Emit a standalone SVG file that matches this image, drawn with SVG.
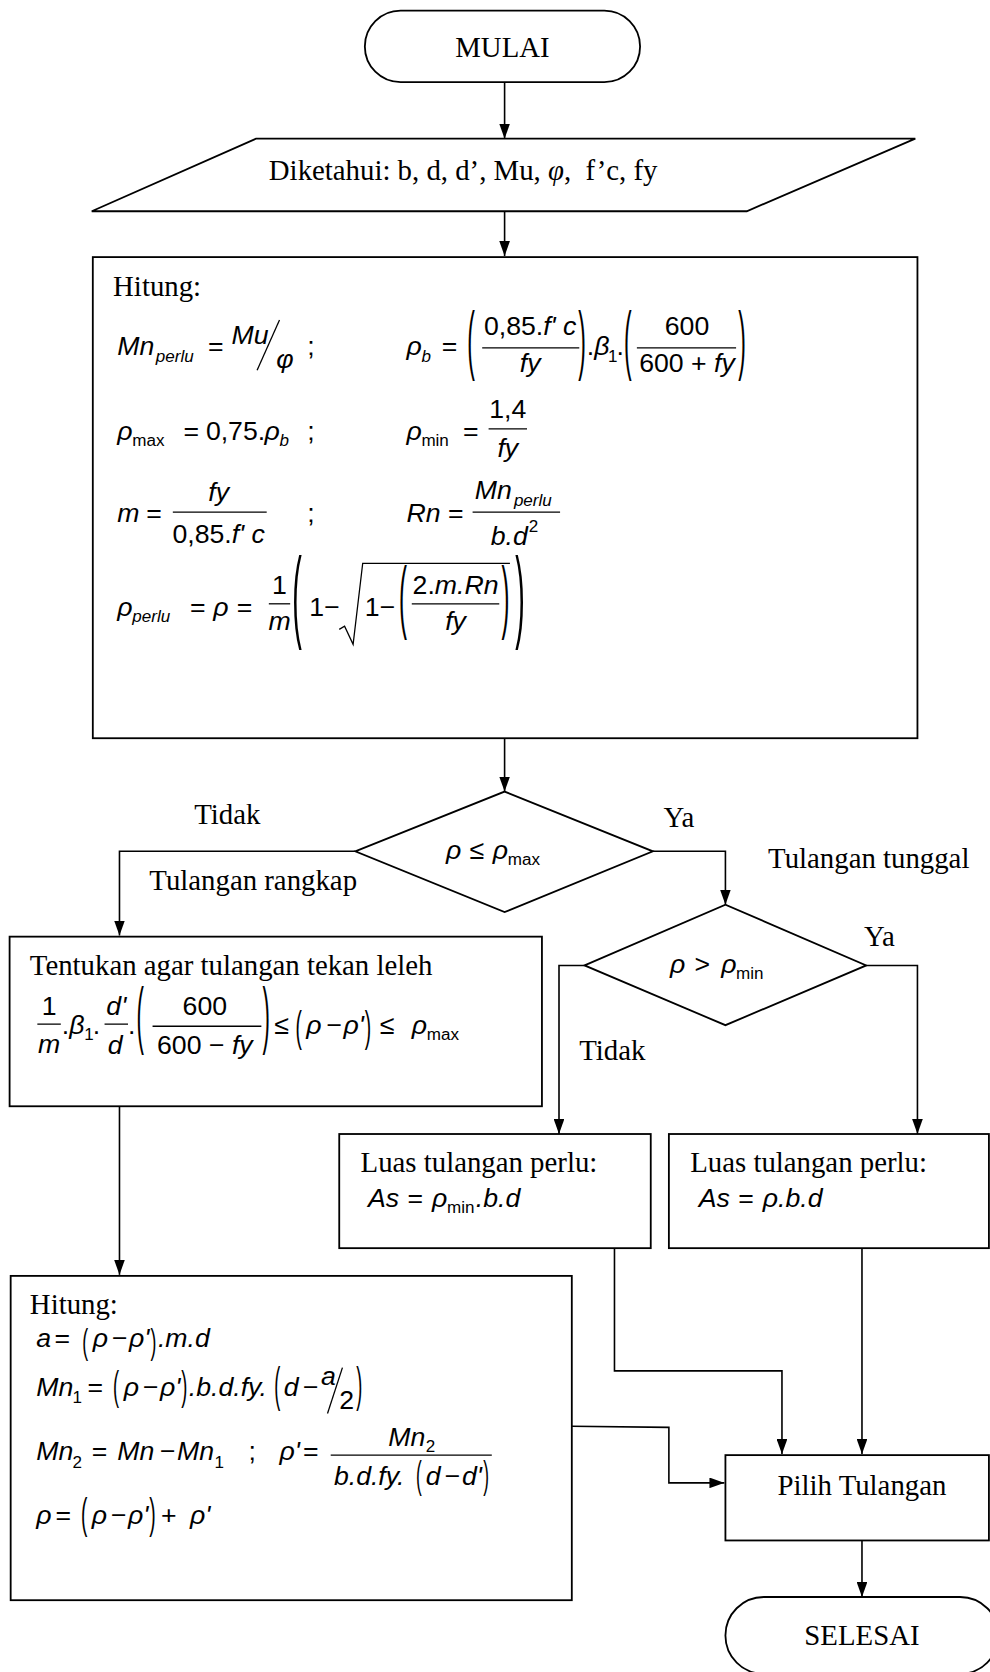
<svg xmlns="http://www.w3.org/2000/svg" width="990" height="1672" viewBox="0 0 990 1672">
<defs>
<marker id="arr" viewBox="0 0 14 10" markerWidth="14" markerHeight="10" refX="14" refY="5" orient="auto" markerUnits="userSpaceOnUse">
<path d="M0,0 L14,5 L0,10 z" fill="#000"/>
</marker>
<style>
.shape{fill:#fff;stroke:#000;stroke-width:1.7}
.conn{fill:none;stroke:#000;stroke-width:1.5}
.fl{stroke:#000;stroke-width:1.2}
.s{font-family:"Liberation Serif","Times New Roman",serif;font-size:27px;fill:#000}
.m{font-family:"Liberation Sans",Arial,sans-serif;font-size:25px;fill:#000}
.i{font-style:italic}
.sb{font-family:"Liberation Sans",Arial,sans-serif;font-size:16px;fill:#000}
.c{text-anchor:middle}
.p{font-family:"Liberation Sans",Arial,sans-serif;fill:#000}
</style>
</defs>
<rect width="990" height="1672" fill="#fff"/>
<g transform="scale(1.0668)">

<g id="connectors">
<path class="conn" d="M473,77 V130" marker-end="url(#arr)"/>
<path class="conn" d="M473,198 V240" marker-end="url(#arr)"/>
<path class="conn" d="M473,692 V742" marker-end="url(#arr)"/>
<path class="conn" d="M333,798 H112 V877" marker-end="url(#arr)"/>
<path class="conn" d="M612,798 H680 V848" marker-end="url(#arr)"/>
<path class="conn" d="M548,905 H524 V1063" marker-end="url(#arr)"/>
<path class="conn" d="M812,905 H860 V1063" marker-end="url(#arr)"/>
<path class="conn" d="M112,1037 V1195" marker-end="url(#arr)"/>
<path class="conn" d="M576,1170 V1285 H733 V1363" marker-end="url(#arr)"/>
<path class="conn" d="M808,1170 V1363" marker-end="url(#arr)"/>
<path class="conn" d="M536,1337 L627,1338 V1390 H679" marker-end="url(#arr)"/>
<path class="conn" d="M808,1444 V1497" marker-end="url(#arr)"/>
</g>

<g id="labels">
<text class="s" x="182" y="772">Tidak</text>
<text class="s" x="622" y="775">Ya</text>
<text class="s" x="720" y="814">Tulangan tunggal</text>
<text class="s" x="140" y="834">Tulangan rangkap</text>
<text class="s" x="810" y="887">Ya</text>
<text class="s" x="543" y="994">Tidak</text>
</g>

<g id="mulai">
<rect class="shape" x="342" y="10" width="258" height="67" rx="33.5"/>
<text class="s c" x="471" y="53">MULAI</text>
</g>

<g id="input">
<polygon class="shape" points="240,130 858,130 700,198 86,198"/>
<text class="s" x="252" y="169" xml:space="preserve">Diketahui: b, d, d’, Mu, <tspan class="i">φ</tspan>,  f’c, fy</text>
</g>

<g id="hitung1">
<rect class="shape" x="87" y="241" width="773" height="451"/>
<text class="s" x="106" y="277">Hitung:</text>
<!-- row 1 -->
<text class="m i" x="110" y="333">Mn</text>
<text class="sb i" x="146" y="339">perlu</text>
<text class="m" x="195" y="333">=</text>
<text class="m i" x="217" y="322">Mu</text>
<line class="fl" x1="262" y1="300" x2="241" y2="347"/>
<text class="m i" x="259" y="345">φ</text>
<text class="m" x="288" y="333">;</text>
<text class="m i" x="381" y="333">ρ</text>
<text class="sb i" x="395" y="339">b</text>
<text class="m" x="414" y="333">=</text>
<text class="p" font-size="71.4" transform="translate(438,342) scale(0.3,1)">(</text>
<text class="m c" x="497" y="314">0,85.<tspan class="i">f' c</tspan></text>
<line class="fl" x1="452" y1="326" x2="543" y2="326"/>
<text class="m i c" x="497" y="349">fy</text>
<text class="p" font-size="71.4" transform="translate(542,342) scale(0.3,1)">)</text>
<text class="m" x="550" y="333">.<tspan class="i">β</tspan></text>
<text class="sb" x="570" y="339">1</text>
<text class="m" x="578" y="333">.</text>
<text class="p" font-size="71.4" transform="translate(585,342) scale(0.3,1)">(</text>
<text class="m c" x="644" y="314">600</text>
<line class="fl" x1="597" y1="326" x2="690" y2="326"/>
<text class="m c" x="644" y="349">600 + <tspan class="i">fy</tspan></text>
<text class="p" font-size="71.4" transform="translate(692,342) scale(0.3,1)">)</text>
<!-- row 2 -->
<text class="m i" x="110" y="412">ρ</text>
<text class="sb" x="124" y="418">max</text>
<text class="m" x="172" y="412">=</text>
<text class="m" x="193" y="412">0,75.</text>
<text class="m i" x="248" y="412">ρ</text>
<text class="sb i" x="262" y="418">b</text>
<text class="m" x="288" y="412">;</text>
<text class="m i" x="381" y="412">ρ</text>
<text class="sb" x="395" y="418">min</text>
<text class="m" x="434" y="412">=</text>
<text class="m c" x="476" y="392">1,4</text>
<line class="fl" x1="458" y1="402" x2="494" y2="402"/>
<text class="m i c" x="476" y="428">fy</text>
<!-- row 3 -->
<text class="m i" x="110" y="489">m</text>
<text class="m" x="137" y="489">=</text>
<text class="m i c" x="205" y="470">fy</text>
<line class="fl" x1="162" y1="480" x2="250" y2="480"/>
<text class="m c" x="205" y="509">0,85.<tspan class="i">f' c</tspan></text>
<text class="m" x="288" y="489">;</text>
<text class="m i" x="381" y="489">Rn</text>
<text class="m" x="420" y="489">=</text>
<text class="m i" x="445" y="468">Mn<tspan font-size="16" dx="2" dy="6">perlu</tspan></text>
<line class="fl" x1="443" y1="480" x2="525" y2="480"/>
<text class="m i" x="460" y="511">b.d<tspan font-size="16" font-style="normal" dx="1" dy="-12">2</tspan></text>
<!-- row 4 -->
<text class="m i" x="110" y="577">ρ</text>
<text class="sb i" x="124" y="583">perlu</text>
<text class="m" x="178" y="577">=</text>
<text class="m i" x="200" y="577">ρ</text>
<text class="m" x="222" y="577">=</text>
<text class="m c" x="262" y="557">1</text>
<line class="fl" x1="252" y1="566" x2="272" y2="566"/>
<text class="m i c" x="262" y="591">m</text>
<text class="p" font-size="96" transform="translate(274,590) scale(0.28,1)">(</text>
<text class="m" x="290" y="577">1−</text>
<polyline points="318,590 323,587 331,604 340,528 478,528" fill="none" stroke="#000" stroke-width="1.2"/>
<text class="m" x="342" y="577">1−</text>
<text class="p" font-size="74.6" transform="translate(374,584) scale(0.3,1)">(</text>
<text class="m c" x="427" y="557">2.<tspan class="i">m.Rn</tspan></text>
<line class="fl" x1="386" y1="566" x2="468" y2="566"/>
<text class="m i c" x="427" y="591">fy</text>
<text class="p" font-size="74.6" transform="translate(470,584) scale(0.3,1)">)</text>
<text class="p" font-size="96" transform="translate(483,590) scale(0.28,1)">)</text>
</g>

<g id="decision1">
<polygon class="shape" points="333,798 473,742 612,798 473,855"/>
<text class="m i" x="418" y="805">ρ</text>
<text class="m" x="440" y="805">≤</text>
<text class="m i" x="462" y="805">ρ</text>
<text class="sb" x="476" y="811">max</text>
</g>

<g id="tentukan">
<rect class="shape" x="9" y="878" width="499" height="159"/>
<text class="s" x="28" y="914">Tentukan agar tulangan tekan leleh</text>
<text class="m c" x="46" y="951">1</text>
<line class="fl" x1="35" y1="960" x2="57" y2="960"/>
<text class="m i c" x="46" y="987">m</text>
<text class="m" x="58" y="969">.<tspan class="i">β</tspan></text>
<text class="sb" x="79" y="975">1</text>
<text class="m" x="87" y="969">.</text>
<text class="m i c" x="109" y="951">d'</text>
<line class="fl" x1="98" y1="960" x2="120" y2="960"/>
<text class="m i c" x="108" y="988">d</text>
<text class="m" x="120" y="969">.</text>
<text class="p" font-size="69.3" transform="translate(128,975) scale(0.3,1)">(</text>
<text class="m c" x="192" y="951">600</text>
<line class="fl" x1="143" y1="962" x2="245" y2="962"/>
<text class="m c" x="192" y="988">600 − <tspan class="i">fy</tspan></text>
<text class="p" font-size="69.3" transform="translate(246,975) scale(0.3,1)">)</text>
<text class="m" x="257" y="969">≤</text>
<text class="p" font-size="40" transform="translate(277,976) scale(0.45,1)">(</text>
<text class="m i" x="287" y="969">ρ</text>
<text class="m" x="306" y="969">−</text>
<text class="m i" x="322" y="969">ρ'</text>
<text class="p" font-size="40" transform="translate(342,976) scale(0.45,1)">)</text>
<text class="m" x="356" y="969">≤</text>
<text class="m i" x="386" y="969">ρ</text>
<text class="sb" x="400" y="975">max</text>
</g>

<g id="decision2">
<polygon class="shape" points="548,905 680,848 812,905 680,961"/>
<text class="m i" x="628" y="912">ρ</text>
<text class="m" x="651" y="912">&gt;</text>
<text class="m i" x="676" y="912">ρ</text>
<text class="sb" x="690" y="918">min</text>
</g>

<g id="luas1">
<rect class="shape" x="318" y="1063" width="292" height="107"/>
<text class="s" x="338" y="1099">Luas tulangan perlu:</text>
<text class="m i" x="345" y="1131">As</text>
<text class="m" x="382" y="1131">=</text>
<text class="m i" x="405" y="1131">ρ</text>
<text class="sb" x="419" y="1137">min</text>
<text class="m i" x="446" y="1131">.b.d</text>
</g>

<g id="luas2">
<rect class="shape" x="627" y="1063" width="300" height="107"/>
<text class="s" x="647" y="1099">Luas tulangan perlu:</text>
<text class="m i" x="655" y="1131">As</text>
<text class="m" x="692" y="1131">=</text>
<text class="m i" x="715" y="1131">ρ.b.d</text>
</g>

<g id="hitung2">
<rect class="shape" x="10" y="1196" width="526" height="304"/>
<text class="s" x="28" y="1232">Hitung:</text>
<!-- a -->
<text class="m i" x="34" y="1263">a</text>
<text class="m" x="51" y="1263">=</text>
<text class="p" font-size="33" transform="translate(77,1269) scale(0.5,1)">(</text>
<text class="m i" x="87" y="1263">ρ</text>
<text class="m" x="105" y="1263">−</text>
<text class="m i" x="121" y="1263">ρ'</text>
<text class="p" font-size="33" transform="translate(141,1269) scale(0.5,1)">)</text>
<text class="m i" x="148" y="1263">.m.d</text>
<!-- Mn1 -->
<text class="m i" x="34" y="1309">Mn</text>
<text class="sb" x="68" y="1315">1</text>
<text class="m" x="82" y="1309">=</text>
<text class="p" font-size="38" transform="translate(106,1312) scale(0.45,1)">(</text>
<text class="m i" x="116" y="1309">ρ</text>
<text class="m" x="134" y="1309">−</text>
<text class="m i" x="150" y="1309">ρ'</text>
<text class="p" font-size="38" transform="translate(170,1312) scale(0.45,1)">)</text>
<text class="m i" x="177" y="1309">.b.d.fy.</text>
<text class="p" font-size="44.8" transform="translate(257,1313) scale(0.38,1)">(</text>
<text class="m i" x="266" y="1309">d</text>
<text class="m" x="284" y="1309">−</text>
<text class="m i" x="301" y="1298">a</text>
<line class="fl" x1="321" y1="1282" x2="307" y2="1325"/>
<text class="m" x="318" y="1321">2</text>
<text class="p" font-size="44.8" transform="translate(334,1313) scale(0.38,1)">)</text>
<!-- Mn2 -->
<text class="m i" x="34" y="1369">Mn</text>
<text class="sb" x="68" y="1376">2</text>
<text class="m" x="86" y="1369">=</text>
<text class="m i" x="110" y="1369">Mn</text>
<text class="m" x="150" y="1369">−</text>
<text class="m i" x="166" y="1369">Mn</text>
<text class="sb" x="201" y="1376">1</text>
<text class="m" x="233" y="1369">;</text>
<text class="m i" x="262" y="1369">ρ'</text>
<text class="m" x="284" y="1369">=</text>
<text class="m i" x="364" y="1355">Mn</text>
<text class="sb" x="399" y="1361">2</text>
<line class="fl" x1="310" y1="1364" x2="461" y2="1364"/>
<text class="m i" x="313" y="1392">b.d.fy.</text>
<text class="p" font-size="36" transform="translate(390,1395) scale(0.45,1)">(</text>
<text class="m i" x="399" y="1392">d</text>
<text class="m" x="417" y="1392">−</text>
<text class="m i" x="433" y="1392">d'</text>
<text class="p" font-size="36" transform="translate(453,1395) scale(0.45,1)">)</text>
<!-- rho -->
<text class="m i" x="34" y="1429">ρ</text>
<text class="m" x="52" y="1429">=</text>
<text class="p" font-size="40" transform="translate(76,1432) scale(0.45,1)">(</text>
<text class="m i" x="86" y="1429">ρ</text>
<text class="m" x="104" y="1429">−</text>
<text class="m i" x="120" y="1429">ρ'</text>
<text class="p" font-size="40" transform="translate(140,1432) scale(0.45,1)">)</text>
<text class="m" x="151" y="1429">+</text>
<text class="m i" x="178" y="1429">ρ'</text>
</g>

<g id="pilih">
<rect class="shape" x="680" y="1364" width="247" height="80"/>
<text class="s c" x="808" y="1401">Pilih Tulangan</text>
</g>

<g id="selesai">
<rect class="shape" x="680" y="1497" width="256" height="72" rx="36"/>
<text class="s c" x="808" y="1542">SELESAI</text>
</g>

</g>
</svg>
